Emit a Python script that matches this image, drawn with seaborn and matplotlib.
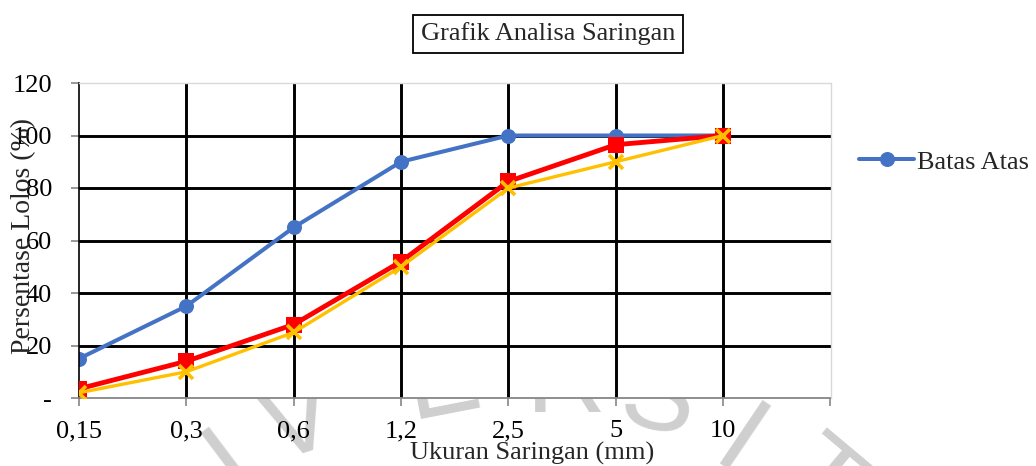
import matplotlib
matplotlib.use("Agg")
import matplotlib.pyplot as plt
import seaborn as sns
import pandas as pd

# Sieve sizes (mm) and percent passing
ukuran = ["0,15", "0,3", "0,6", "1,2", "2,5", "5", "10"]
batas_atas = [15, 35, 65, 90, 100, 100, 100]
hasil_uji = [3.5, 14, 28, 52, 82.5, 96.5, 100]
batas_bawah = [2, 10, 25, 50, 80, 90, 100]
y_ticks = [0, 20, 40, 60, 80, 100, 120]
y_tick_labels = ["-", "20", "40", "60", "80", "100", "120"]

sns.set_theme(style="white")
plt.rcParams["font.family"] = ["Liberation Serif", "DejaVu Serif"]

W, H = 1036, 466
FS = 19
fig = plt.figure(figsize=(W / 100, H / 100), dpi=100)
fig.patch.set_facecolor("white")

# background watermark lettering (sits behind the plot area);
# each entry: letter, baseline-centre x, y (pixels from top-left), rotation
wm = [("I", 249, 485, 37), ("V", 308, 452, 18), ("E", 448, 412, 11),
      ("R", 566, 412, 0), ("S", 652, 430, -12), ("I", 722, 472, -34),
      ("T", 800, 507, -40)]
for ch, px, py, rot in wm:
    fig.text(px / W, 1 - py / H, ch, fontsize=80, family="Liberation Sans",
             color="#cfcfcf", ha="center", va="baseline", rotation=rot,
             rotation_mode="anchor", zorder=-5)

ax = fig.add_axes([79 / W, 1 - 398 / H, (830.5 - 79) / W, (398 - 83) / H])
ax.set_facecolor("white")
ax.set_zorder(1)

df = pd.DataFrame({"ukuran": ukuran, "atas": batas_atas,
                   "uji": hasil_uji, "bawah": batas_bawah})

sns.lineplot(data=df, x="ukuran", y="bawah", ax=ax, sort=False, color="#FFC000",
             lw=2.4, marker="x", markersize=10.5, markeredgewidth=2.6,
             markeredgecolor="#FFC000", zorder=4, label="_bawah")
sns.lineplot(data=df, x="ukuran", y="uji", ax=ax, sort=False, color="#FF0000",
             lw=3.5, marker="s", markersize=11, markeredgewidth=0,
             zorder=3, label="_uji")
sns.lineplot(data=df, x="ukuran", y="atas", ax=ax, sort=False, color="#4472C4",
             lw=2.9, marker="o", markersize=10.8, markeredgewidth=0,
             zorder=2, label="Batas Atas")

ax.set_xlim(0, len(ukuran))
ax.set_ylim(0, 120)
ax.set_xticks(range(len(ukuran) + 1))
ax.set_xticklabels(ukuran + [""], fontsize=FS)
ax.set_yticks(y_ticks)
ax.set_yticklabels(y_tick_labels, fontsize=FS)
ax.set_xlabel("")
ax.set_ylabel("")

# grid
for yv in y_ticks[1:-1]:
    ax.axhline(yv, color="black", lw=2.1, zorder=1)
for xv in range(1, len(ukuran)):
    ax.axvline(xv, color="black", lw=2.1, zorder=1)

for s in ["top", "right"]:
    ax.spines[s].set_color("#d9d9d9")
    ax.spines[s].set_linewidth(1.0)
ax.spines["left"].set_color("black")
ax.spines["left"].set_linewidth(1.2)
ax.spines["bottom"].set_color("#868686")
ax.spines["bottom"].set_linewidth(1.3)

ax.tick_params(axis="y", direction="out", length=5.5, width=1.2,
               pad=14, left=True, labelcolor="black", color="#868686")
ax.tick_params(axis="x", direction="out", length=5.5, width=1.2,
               pad=10.5, bottom=True, labelcolor="black", color="#868686")

leg = ax.legend(loc="center left", bbox_to_anchor=(859 / W, 1 - 162 / H),
                bbox_transform=fig.transFigure, frameon=False, fontsize=FS,
                handlelength=2.1, handletextpad=0.1, borderaxespad=0,
                borderpad=0)

fig.text(548 / W, 1 - 34 / H, "Grafik Analisa Saringan", fontsize=FS,
         ha="center", va="center",
         bbox=dict(boxstyle="square,pad=0.3", fc="white", ec="black", lw=1.3))

fig.text(532 / W, 1 - 453 / H, "Ukuran Saringan (mm)", fontsize=FS,
         ha="center", va="center")
fig.text(24 / W, 1 - 236 / H, "Persentase Lolos (%)", fontsize=20,
         ha="center", va="center", rotation=90, zorder=5)

fig.savefig("out.png", dpi=100)
